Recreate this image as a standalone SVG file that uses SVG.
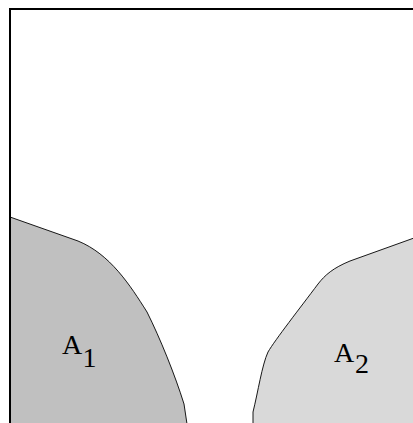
<svg xmlns="http://www.w3.org/2000/svg" width="413" height="423" viewBox="0 0 413 423">
<style>
.region{stroke:#000;stroke-width:0.9;stroke-linejoin:round}
.lbl{font-family:"Liberation Serif","Times New Roman",serif;font-size:28px;fill:#000}
</style>
<rect width="413" height="423" fill="#fff"/>
<g id="A1">
<path class="region" fill="#c0c0c0" d="M10,217 L78,241 C110,254 130,285 147,312 C160,338 175,375 184,404 L187,424 L188,430 L10,430 Z"/>
<text class="lbl" x="62" y="354">A</text>
<text class="lbl" x="82.5" y="366.5">1</text>
</g>
<g id="A2">
<path class="region" fill="#d9d9d9" d="M414,238 L350,261 C333,268 325,275 318,284 C300,308 275,340 268,352 C262,365 258,392 253,412 L253,424 L253,430 L414,430 Z"/>
<text class="lbl" x="334" y="362">A</text>
<text class="lbl" x="355" y="373">2</text>
</g>
<g id="frame">
<path d="M10,423 L10,9 L413,9" fill="none" stroke="#000" stroke-width="2"/>
</g>
</svg>
